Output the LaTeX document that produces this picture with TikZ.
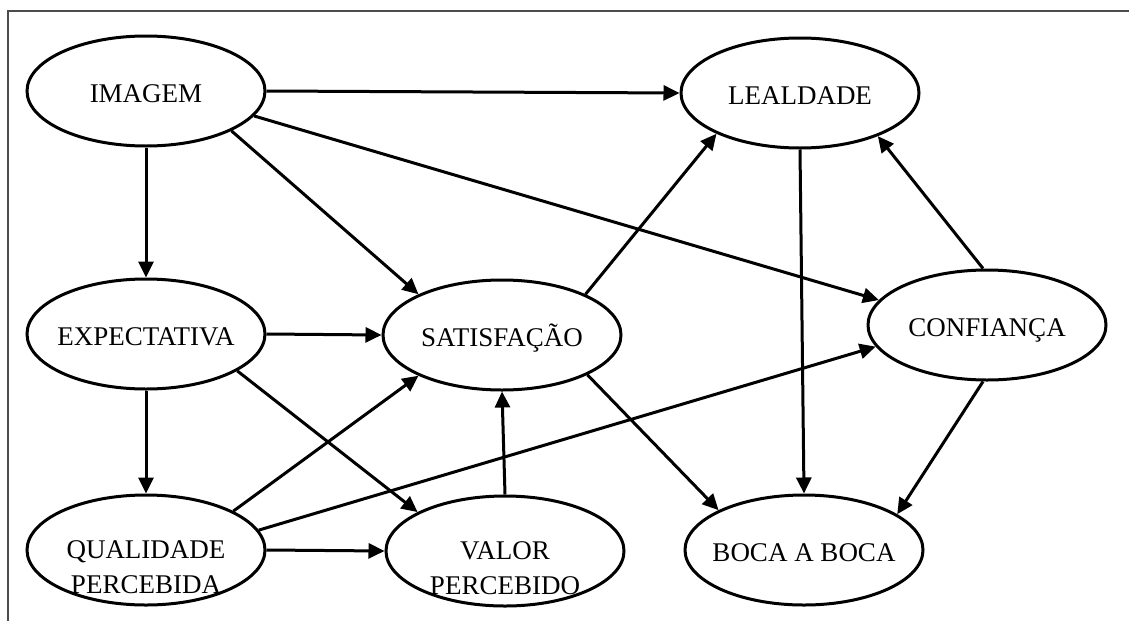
\documentclass[tikz,border=0pt]{standalone}
\usepackage{fontspec}
\setmainfont{Liberation Serif}
\usetikzlibrary{arrows.meta, shapes.geometric}

\begin{document}
\begin{tikzpicture}[
            x = 1pt, y = -1pt,
            > = {Triangle[length=16pt, width=15pt]}, % arrow head style
            line width = 3pt % line style
        ]

        \tikzstyle{construto}=[
            draw = black,
            ellipse,
            minimum width = 238pt,
            minimum height = 110pt,
            inner xsep = -15pt,
            inner ysep = 0pt,
            font = \fontsize{27}{35}\selectfont,
            text height = 22pt,
            text depth = 0pt
        ]
        \tikzstyle{duaslinhas}=[
            align = center,
            inner ysep = -10pt,
            text height = 86pt,
            text depth = 0pt
        ]

        \useasboundingbox (0,0) rectangle (1129,621);
        % moldura
        \draw[line width = 1.2pt, black!70] (1129,11) -- (8,11) -- (8,621);

        \node[construto] (imagem) at (146,91) {IMAGEM};
        \node[construto] (lealdade) at (800,93) {LEALDADE};
        \node[construto] (expectativa) at (146,334) {EXPECTATIVA};
        \node[construto] (satisfacao) at (502,335) {SATISFAÇÃO};
        \node[construto] (confianca) at (987,325) {CONFIANÇA};
        \node[construto, duaslinhas] (qualidade) at (146,550) {QUALIDADE\\PERCEBIDA};
        \node[construto, duaslinhas] (valor) at (505,551) {VALOR\\PERCEBIDO};
        \node[construto] (boca) at (804,550) {BOCA A BOCA};

        \path[->] (imagem.east) edge (lealdade.west);
        \path[->] (imagem.south) edge (expectativa.north);
        \path[->] (imagem.-25) edge (satisfacao.154);
        \path[->] (imagem.-13) edge (confianca.167);
        \path[->] (expectativa.east) edge (satisfacao.west);
        \path[->] (expectativa.south) edge (qualidade.north);
        \path[->] (expectativa.-22) edge (valor.156);
        \path[->] (qualidade.24) edge (satisfacao.206);
        \path[->] (qualidade.10) edge (confianca.191);
        \path[->] (qualidade.east) edge (valor.west);
        \path[->] (valor.north) edge (satisfacao.south);
        \path[->] (satisfacao.26) edge (lealdade.206);
        \path[->] (satisfacao.-25) edge (boca.155);
        \path[->] (lealdade.south) edge (boca.north);
        \path[->] (confianca.94) edge (lealdade.-29);
        \path[->] (confianca.-94) edge (boca.21);

  \end{tikzpicture}
\end{document}
